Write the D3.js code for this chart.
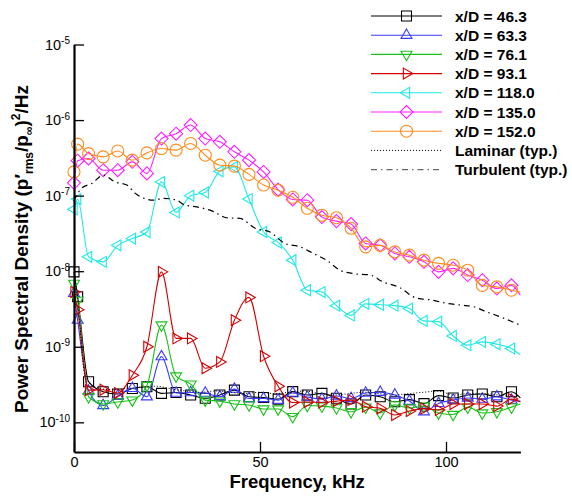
<!DOCTYPE html>
<html><head><meta charset="utf-8">
<script src="https://cdn.jsdelivr.net/npm/d3@7"></script>
<style>
html,body{margin:0;padding:0;background:#fff;}
svg{display:block;font-family:"Liberation Sans",Arial,Helvetica,sans-serif;}
</style></head><body>
<svg id="chart" width="572" height="496"></svg>
<script>
// Sample frequencies (kHz) shared by the seven measured spectra
const freq = [0, 0.98, 3.92, 7.84, 11.76, 15.68, 19.6, 23.52, 27.44, 31.36, 35.28, 39.2, 43.12, 47.04, 50.96, 54.88, 58.8, 62.72, 66.64, 70.56, 74.48, 78.4, 82.32, 86.24, 90.16, 94.08, 98.0, 101.92, 105.84, 109.76, 113.68, 117.6, 120];

// PSD at each station, (p'rms/p_inf)^2/Hz
const psd463 = [9.8e-9, 4.6e-9, 3.45e-10, 2.54e-10, 2.37e-10, 2.8e-10, 2.96e-10, 2.42e-10, 2.48e-10, 2.3e-10, 2.08e-10, 2.3e-10, 2.67e-10, 2.18e-10, 2.13e-10, 2.03e-10, 2.55e-10, 2.3e-10, 2.42e-10, 2.08e-10, 1.75e-10, 2.3e-10, 2.18e-10, 1.87e-10, 2.0e-10, 1.77e-10, 2.26e-10, 2.1e-10, 2.3e-10, 2.37e-10, 2.18e-10, 2.54e-10, 2.1e-10];
const psd633 = [5.1e-9, 2.25e-9, 2.6e-10, 1.67e-10, 2.23e-10, 2.82e-10, 2.18e-10, 7.4e-10, 2.44e-10, 2.48e-10, 2.44e-10, 2.18e-10, 2.75e-10, 2.07e-10, 2.07e-10, 1.97e-10, 2.44e-10, 2.16e-10, 2.03e-10, 2.23e-10, 2.07e-10, 2.44e-10, 2.5e-10, 2.3e-10, 1.91e-10, 1.38e-10, 1.78e-10, 1.97e-10, 2.1e-10, 2.03e-10, 2.18e-10, 1.97e-10, 1.91e-10];
const psd761 = [6.9e-9, 4.1e-9, 2.18e-10, 1.75e-10, 1.86e-10, 1.97e-10, 3.07e-10, 1.94e-9, 4.1e-10, 3.2e-10, 1.97e-10, 1.91e-10, 1.75e-10, 1.7e-10, 1.5e-10, 1.5e-10, 1.19e-10, 1.67e-10, 1.64e-10, 1.55e-10, 1.38e-10, 1.59e-10, 1.33e-10, 1.7e-10, 1.55e-10, 1.64e-10, 1.33e-10, 1.27e-10, 1.59e-10, 1.33e-10, 1.38e-10, 1.59e-10, 1.75e-10];
const psd931 = [5.3e-9, 3.1e-9, 2.67e-10, 2.7e-10, 2.44e-10, 4.2e-10, 1.0e-9, 9.8e-9, 1.29e-9, 1.29e-9, 5.2e-10, 6.3e-10, 2.25e-9, 4.5e-9, 7.5e-10, 3.0e-10, 1.83e-10, 1.86e-10, 1.83e-10, 1.91e-10, 1.97e-10, 1.61e-10, 1.53e-10, 1.25e-10, 1.41e-10, 1.52e-10, 1.46e-10, 1.75e-10, 1.75e-10, 1.75e-10, 1.64e-10, 2.03e-10, 1.86e-10];
const psd1180 = [6.6e-8, 9e-8, 1.55e-8, 1.33e-8, 2.2e-8, 2.7e-8, 3.3e-8, 1.52e-7, 6.0e-8, 1.0e-7, 1.1e-7, 2.1e-7, 2.4e-7, 9e-8, 3.3e-8, 2.4e-8, 1.4e-8, 5.6e-9, 5.3e-9, 3.5e-9, 2.6e-9, 3.7e-9, 3.6e-9, 3.5e-9, 3.2e-9, 2.2e-9, 2.15e-9, 1.39e-9, 1.05e-9, 1.16e-9, 1.08e-9, 0.95e-9, 0.78e-9];
const psd1350 = [1.48e-7, 2.9e-7, 3.1e-7, 2.17e-7, 2.17e-7, 2.8e-7, 1.97e-7, 5.7e-7, 6.6e-7, 8.6e-7, 5.7e-7, 5.15e-7, 3.8e-7, 2.95e-7, 2.06e-7, 1.2e-7, 8.9e-8, 8.7e-8, 5.2e-8, 4.6e-8, 4.2e-8, 2.33e-8, 2.2e-8, 1.72e-8, 1.55e-8, 1.33e-8, 0.98e-8, 1.09e-8, 8.9e-9, 7.6e-9, 5.9e-9, 6.5e-9, 4.8e-9];
const psd1520 = [2.06e-7, 4.8e-7, 3.6e-7, 3.26e-7, 3.9e-7, 2.95e-7, 3.68e-7, 4.2e-7, 4.0e-7, 4.9e-7, 3.43e-7, 2.53e-7, 2.46e-7, 1.91e-7, 1.38e-7, 1.18e-7, 9.5e-8, 6.8e-8, 5.5e-8, 5.1e-8, 3.7e-8, 2.1e-8, 2.2e-8, 1.8e-8, 1.63e-8, 1.4e-8, 1.27e-8, 1.2e-8, 1.03e-8, 6.5e-9, 6.2e-9, 5.6e-9, 5.3e-9];

// Typical laminar and turbulent spectra
const laminarFreq = [0, 1, 3, 6, 10, 14, 18, 22, 26, 30, 34, 38, 42, 46, 50, 54, 58, 62, 66, 70, 74, 78, 82, 86, 90, 94, 98, 102, 106, 110, 114, 118, 120];
const laminarPsd = [1.1e-8, 4e-9, 4e-10, 2.9e-10, 2.7e-10, 2.8e-10, 2.9e-10, 3.0e-10, 2.8e-10, 2.6e-10, 2.5e-10, 2.6e-10, 2.5e-10, 2.4e-10, 2.5e-10, 2.4e-10, 2.5e-10, 2.6e-10, 2.4e-10, 2.3e-10, 2.4e-10, 2.5e-10, 2.4e-10, 2.3e-10, 2.4e-10, 2.5e-10, 2.6e-10, 2.3e-10, 2.4e-10, 2.4e-10, 2.3e-10, 2.2e-10, 2.3e-10];
const turbFreq = [0, 0.5, 2.1, 4.8, 7.9, 11, 14.2, 16.4, 21.3, 24, 27.6, 29.8, 33, 37.4, 41, 44.6, 48.7, 52.7, 56.7, 60.8, 64.3, 67.9, 71.5, 75.1, 79.6, 83.1, 87.2, 92.1, 96.2, 100.2, 104.2, 107.3, 110.9, 115.4, 119.9];
const turbPsd = [8.5e-8, 9.6e-8, 1.26e-7, 1.45e-7, 1.87e-7, 1.52e-7, 1.38e-7, 1.08e-7, 8.7e-8, 9.2e-8, 8.7e-8, 7.5e-8, 7.1e-8, 6.2e-8, 5.1e-8, 5.0e-8, 3.7e-8, 3.3e-8, 2.33e-8, 2.1e-8, 1.72e-8, 1.4e-8, 1.03e-8, 0.93e-8, 8.9e-9, 7.2e-9, 6.2e-9, 4.4e-9, 4.15e-9, 3.75e-9, 3.55e-9, 3.4e-9, 2.9e-9, 2.4e-9, 1.94e-9];

const stationLabels = ["x/D = 46.3", "x/D = 63.3", "x/D = 76.1", "x/D = 93.1", "x/D = 118.0", "x/D = 135.0", "x/D = 152.0"];
const stationColors = ["#000000", "#3a3aff", "#18c018", "#d40000", "#1ee8e8", "#ff20ff", "#ff8c1e"];
const stationShapes = ["square", "triUp", "triDown", "triRight", "triLeft", "diamond", "circle"];
const stationPsd = [psd463, psd633, psd761, psd931, psd1180, psd1350, psd1520];
const refLabels = ["Laminar (typ.)", "Turbulent (typ.)"];

const xMajor = [0, 50, 100];
const xMinor = [10, 20, 30, 40, 60, 70, 80, 90, 110, 120];
const yMajor = [1e-10, 1e-9, 1e-8, 1e-7, 1e-6, 1e-5];

const svg = d3.select("#chart");
const plotLeft = 74, plotRight = 520.4, plotTop = 44.5, plotBottom = 452;

const x = d3.scaleLinear().domain([0, 120]).range([plotLeft, plotRight]);
const y = d3.scaleLog().domain([4.05e-11, 1e-5]).range([plotBottom, plotTop]);

// y minor ticks: 2..9 within each decade inside the domain
const yMinor = [];
for (let e = -11; e <= -6; e++) for (let m = 2; m <= 9; m++) {
  const v = m * Math.pow(10, e);
  if (v >= 4.0e-11 && v < 1e-5) yMinor.push(v);
}

function markerPath(shape) {
  const r = 6.3, h = r * 0.866;
  switch (shape) {
    case "square": return "M-5,-5H5V5H-5Z";
    case "triUp": return `M0,${-r}L${h},${r/2}L${-h},${r/2}Z`;
    case "triDown": return `M0,${r}L${h},${-r/2}L${-h},${-r/2}Z`;
    case "triRight": return `M${r},0L${-r/2},${-h}L${-r/2},${h}Z`;
    case "triLeft": return `M${-r},0L${r/2},${-h}L${r/2},${h}Z`;
    case "diamond": return "M0,-6.5L6.5,0L0,6.5L-6.5,0Z";
    case "circle": return "M6,0A6,6 0 1,1 -6,0A6,6 0 1,1 6,0Z";
  }
}

const line = d3.line().x(d => x(d[0])).y(d => y(d[1])).curve(d3.curveMonotoneX);
const turbDash = "6,4,1.5,4";

// measured spectra
const plot = svg.append("g");
stationPsd.forEach((vals, k) => {
  const pts = freq.map((f, i) => [f, vals[i]]);
  const g = plot.append("g");
  g.append("path").attr("d", line(pts)).attr("fill", "none")
    .attr("stroke", stationColors[k]).attr("stroke-width", 1.1);
  g.selectAll("path.m").data(pts.slice(0, pts.length - 1)).join("path")
    .attr("class", "m")
    .attr("transform", d => `translate(${x(d[0])},${y(d[1])})`)
    .attr("d", markerPath(stationShapes[k]))
    .attr("fill", "none").attr("stroke", stationColors[k]).attr("stroke-width", 1.1);
});

// typical laminar / turbulent
plot.append("path").attr("d", line(laminarFreq.map((f, i) => [f, laminarPsd[i]])))
  .attr("fill", "none").attr("stroke", "#000").attr("stroke-width", 1).attr("stroke-dasharray", "1,2");
plot.append("path").attr("d", line(turbFreq.map((f, i) => [f, turbPsd[i]])))
  .attr("fill", "none").attr("stroke", "#000").attr("stroke-width", 1.2).attr("stroke-dasharray", turbDash);

// axes (ticks pointing into the plot)
const font = '"Liberation Sans",Arial,Helvetica,sans-serif';
const gx = svg.append("g").attr("transform", `translate(0,${plotBottom})`);
gx.call(d3.axisBottom(x).tickValues(xMinor).tickSize(-6).tickFormat(""));
gx.call(d3.axisBottom(x).tickValues(xMajor).tickSizeInner(-10).tickSizeOuter(0).tickPadding(5).tickFormat(d3.format("d")));
gx.selectAll("path.domain").attr("stroke-width", 2.2);
gx.selectAll(".tick line").attr("stroke-width", 1.3);
gx.selectAll(".tick text").attr("font-size", 14.5).attr("font-family", font).attr("fill", "#000");

const gy = svg.append("g").attr("transform", `translate(${plotLeft},0)`);
gy.call(d3.axisLeft(y).tickValues(yMinor).tickSize(-6).tickFormat(""));
gy.call(d3.axisLeft(y).tickValues(yMajor).tickSizeInner(-10).tickSizeOuter(0).tickPadding(4).tickFormat(() => "10"));
gy.selectAll("path.domain").attr("stroke-width", 2.2);
gy.selectAll(".tick line").attr("stroke-width", 1.3);
gy.selectAll(".tick text").attr("font-size", 14.5).attr("font-family", font).attr("fill", "#000")
  .each(function (d) {
    if (!yMajor.includes(d)) return;
    d3.select(this).append("tspan").attr("dy", "-0.55em").attr("font-size", 10)
      .text(String(Math.round(Math.log10(d))));
  });

// axis titles
svg.append("text").attr("x", (plotLeft + plotRight) / 2).attr("y", 488)
  .attr("text-anchor", "middle").attr("font-weight", "bold").attr("font-size", 18.5)
  .text("Frequency, kHz");

const yt = svg.append("text").attr("transform", "translate(27.5,249) rotate(-90)")
  .attr("text-anchor", "middle").attr("font-weight", "bold").attr("font-size", 19);
yt.append("tspan").text("Power Spectral Density (p");
yt.append("tspan").text("\u2032");
yt.append("tspan").attr("font-size", 12).attr("dy", 5).text("rms");
yt.append("tspan").attr("dy", -5).text("/p");
yt.append("tspan").attr("font-size", 12).attr("dy", 5).text("\u221E");
yt.append("tspan").attr("dy", -5).text(")");
yt.append("tspan").attr("font-size", 12).attr("dy", -8).text("2");
yt.append("tspan").attr("dy", 8).text("/Hz");

// legend
const lg = svg.append("g");
const rowY = i => 16 + i * 19.2;
stationLabels.forEach((lab, k) => {
  const yy = rowY(k);
  lg.append("line").attr("x1", 371).attr("x2", 442).attr("y1", yy).attr("y2", yy)
    .attr("stroke", stationColors[k]).attr("stroke-width", 1.1);
  lg.append("path").attr("transform", `translate(406.5,${yy})`).attr("d", markerPath(stationShapes[k]))
    .attr("fill", "none").attr("stroke", stationColors[k]).attr("stroke-width", 1.1);
  lg.append("text").attr("x", 455).attr("y", yy + 5.5).attr("font-weight", "bold").attr("font-size", 15.5).text(lab);
});
const refDash = ["1,2", turbDash];
refLabels.forEach((lab, j) => {
  const yy = rowY(7 + j);
  lg.append("line").attr("x1", 371).attr("x2", 442).attr("y1", yy).attr("y2", yy)
    .attr("stroke", j === 0 ? "#000" : "#666").attr("stroke-width", j === 0 ? 1 : 1.3).attr("stroke-dasharray", refDash[j]);
  lg.append("text").attr("x", 455).attr("y", yy + 5.5).attr("font-weight", "bold").attr("font-size", 15.5).text(lab);
});
</script>
</body></html>
